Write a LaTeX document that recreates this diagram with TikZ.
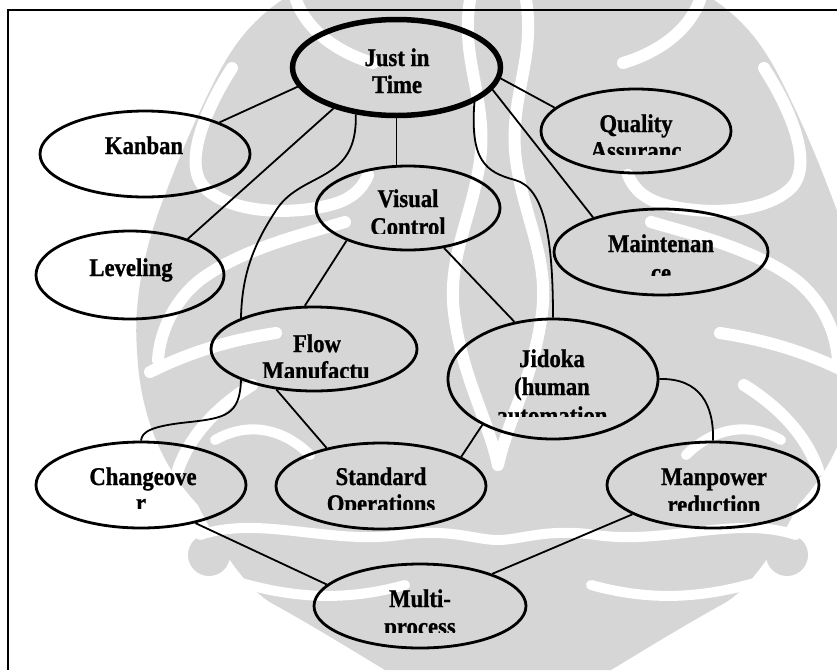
\documentclass[tikz,border=0pt]{standalone}
\usepackage{fontspec}
\setmainfont{Liberation Serif}
\newfontfamily\lblfont[FakeStretch=0.89, FakeBold=0.9]{Liberation Serif}
\usetikzlibrary{shapes.geometric}
\definecolor{wmgray}{RGB}{214,214,214}
\tikzset{
  bubble/.style={draw=black, line width=2.8pt, ellipse, inner sep=0pt},
  hub/.style={line width=5.5pt},
  link/.style={draw=black, line width=1.8pt},
  lbl/.style={inner sep=0pt, anchor=base, font=\lblfont\bfseries\fontsize{25.5}{28}\selectfont},
  wmband/.style={draw=white, line width=12pt, line cap=round},
  frame/.style={draw=black, line width=2.2pt},
}
% oval: name, centre x, centre y, width, height
\newcommand\bubblenode[6][]{\node[bubble, #1, minimum width=#5pt, minimum height=#6pt] (#2) at (#3,#4) {};}
% text line whose lower part is hidden: name, x, baseline, cut, text
\newcommand\cutline[5]{%
  \begin{scope}
    \clip ({#2-95},{#3-30}) rectangle ({#2+95},#4);
    \node[lbl] (#1) at (#2,#3) {#5};
  \end{scope}}
% one half of the background emblem (mirrored about x = 498)
\newcommand\emblemhalf{%
  \fill[wmgray] (498,0) -- (282,0) .. controls (245,25) and (228,55) .. (215,80)
    .. controls (195,120) and (180,155) .. (165,195)
    .. controls (145,245) and (133,300) .. (137,350)
    .. controls (140,420) and (165,470) .. (198,505)
    .. controls (215,540) and (245,590) .. (275,605)
    .. controls (320,630) and (360,655) .. (385,670) -- (498,670) -- cycle;
  \fill[wmgray] (209,555) circle (21);
  % outer hook round the upper lobe
  \draw[wmband] (232,68) .. controls (205,110) and (182,165) .. (205,188)
    .. controls (232,214) and (292,215) .. (330,205)
    .. controls (350,200) and (362,190) .. (368,175);
  % band across the middle lobe
  \draw[wmband] (345,222) .. controls (300,235) and (240,250) .. (200,280)
    .. controls (175,300) and (160,330) .. (158,360);
  \draw[wmband] (276,333) .. controls (230,340) and (190,352) .. (150,372);
  \draw[wmband] (252,385) .. controls (212,410) and (188,440) .. (178,470);
  % top arc
  \draw[wmband] (296,0) .. controls (305,25) and (330,50) .. (373,63);
  % trunk
  \draw[wmband] (470,0) .. controls (460,60) and (488,100) .. (480,160)
    .. controls (472,220) and (445,260) .. (455,320)
    .. controls (464,380) and (488,420) .. (498,465);
  % lower waves
  \draw[wmband, line width=10pt] (200,535) .. controls (260,515) and (330,545) .. (400,535)
    .. controls (450,528) and (475,540) .. (498,540);
  \draw[wmband, line width=10pt] (238,582) .. controls (300,600) and (350,600) .. (405,585);
  \draw[wmband, line width=10pt] (215,440) .. controls (250,420) and (285,430) .. (310,455);
}

\begin{document}
\begin{tikzpicture}[x=1pt, y=-1pt]
\useasboundingbox (0,0) rectangle (837,670);
\fill[white] (0,0) rectangle (837,670);

% background emblem, drawn as two mirrored halves
\begin{scope}
  \clip (0,0) rectangle (837,670);
  \emblemhalf
  \begin{scope}[shift={(996,0)}, xscale=-1]
    \emblemhalf
  \end{scope}
\end{scope}

% frame, open at the right and at the bottom
\coordinate (fr-tr) at (837,10);
\coordinate (fr-tl) at (8,10);
\coordinate (fr-bl) at (8,670);
\draw[frame] (fr-tr) -- (fr-tl) -- (fr-bl);

% ovals
\bubblenode[hub]{jit}{396.5}{67.5}{208}{96}
\bubblenode{kanban}{145}{154}{210}{86}
\bubblenode{qa}{636}{131}{190}{84}
\bubblenode{vis}{408}{208}{184}{84}
\bubblenode{lev}{130}{275}{188}{88}
\bubblenode{mnt}{661}{252}{214}{86}
\bubblenode{flow}{314}{349}{206}{84}
\bubblenode{jid}{553}{379}{210}{120}
\bubblenode{chg}{141}{485}{210}{86}
\bubblenode{std}{381}{486}{210}{86}
\bubblenode{man}{713}{485}{212}{86}
\bubblenode{mlt}{420}{606}{212}{84}

% labels
\node[lbl] (jit-a) at (397,66) {Just in};
\node[lbl] (jit-b) at (397,93) {Time};
\node[lbl] (kanban-a) at (144,154) {Kanban};
\node[lbl] (qa-a) at (636,132) {Quality};
\cutline{qa-b}{636}{159}{154}{Assuranc}
\node[lbl] (vis-a) at (408,207) {Visual};
\cutline{vis-b}{408}{235}{233}{Control}
\node[lbl] (lev-a) at (131,276) {Leveling};
\node[lbl] (mnt-a) at (661,252) {Maintenan};
\cutline{mnt-b}{661}{281}{275}{ce}
\node[lbl] (flow-a) at (317,352) {Flow};
\cutline{flow-b}{316}{379}{377}{Manufactu}
\node[lbl] (jid-a) at (552,367) {Jidoka};
\node[lbl] (jid-b) at (552,395) {(human};
\cutline{jid-c}{552}{424}{416}{automation}
\node[lbl] (chg-a) at (143,485) {Changeove};
\cutline{chg-b}{141}{511}{508}{r}
\node[lbl] (std-a) at (381,485) {Standard};
\cutline{std-b}{381}{512}{509}{Operations}
\node[lbl] (man-a) at (714,485) {Manpower};
\cutline{man-b}{714}{513}{510}{reduction}
\node[lbl] (mlt-a) at (420,607) {Multi-};
\cutline{mlt-b}{420}{635}{632}{process}

% straight links
\draw[link] (jit.191) -- (kanban.23);
\draw[link] (jit.213) -- (lev.32);
\draw[link] (jit.south) -- (jit.south |- vis.north);
\draw[link] (jit.347) -- (mnt.153);
\draw[link] (jit.354) -- (qa.164);
\draw[link] (vis.208) -- (flow.102);
\draw[link] (vis.312) -- (jid.124);
\draw[link] (flow.227) -- (std.145);
\draw[link] (jid.213) -- (std.20);
\draw[link] (chg.325) -- (mlt.167);
\draw[link] (man.200) -- (mlt.24);

% curved links
\draw[link] (jit.229) .. controls (358,185) and (300,170) .. (275,212)
  .. controls (250,250) and (242,280) .. (flow.157);
\draw[link] (jit.336) .. controls (470,160) and (485,172) .. (515,180)
  .. controls (545,188) and (553,240) .. (jid.north);
\draw[link] (flow.203) .. controls (240,415) and (225,418) .. (190,422)
  .. controls (150,426) and (142,432) .. (chg.north);
\draw[link] (jid.east) .. controls (700,378) and (714,405) .. (man.north);
\end{tikzpicture}
\end{document}
